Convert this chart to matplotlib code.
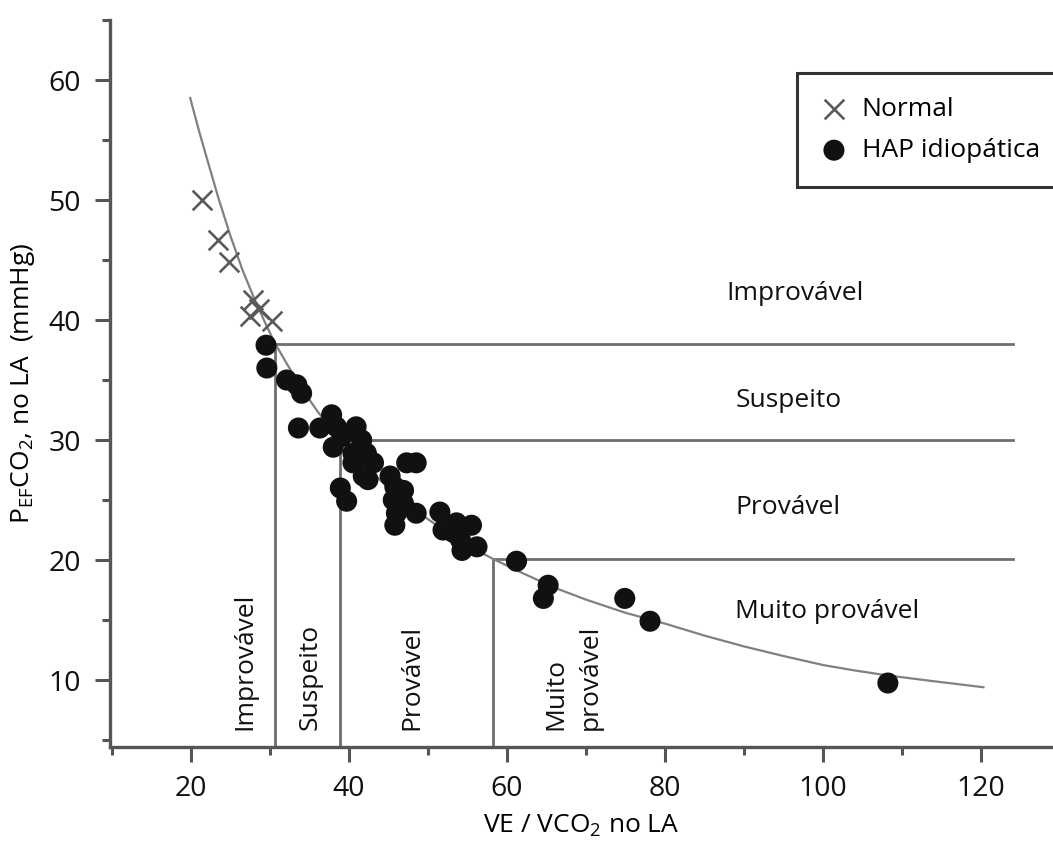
"""
PETCO2 vs VE/VCO2 at the anaerobic threshold, with probability zones for idiopathic PAH.
"""

import matplotlib

matplotlib.use("Agg")
import matplotlib.pyplot as plt
from matplotlib.ticker import MultipleLocator

plt.rcParams["font.family"] = ["Open Sans", "DejaVu Sans"]
plt.rcParams["mathtext.fontset"] = "custom"
plt.rcParams["mathtext.rm"] = "Open Sans"

# normal subjects (x markers)
normal_ve = [21.4, 23.4, 24.8, 27.8, 28.6, 27.5, 30.2]
normal_pet = [50.0, 46.7, 44.8, 41.7, 40.9, 40.3, 39.9]

# idiopathic PAH (filled circles)
hap_ve = [29.5, 29.6, 32.1, 33.4, 34.0, 33.6, 36.3, 37.8, 38.4, 39.1, 38.0,
          40.9, 41.6, 40.5, 42.2, 43.1, 40.5, 41.8, 42.4, 38.9, 39.7,
          47.3, 48.5, 45.2, 45.8, 46.9, 45.6, 46.9, 48.5, 46.0, 45.8,
          51.5, 51.9, 53.6, 55.5, 54.1, 54.3, 56.2, 53.2, 61.2,
          65.2, 64.6, 74.9, 78.1, 108.2]
hap_pet = [37.9, 36.0, 35.0, 34.6, 33.9, 31.0, 31.0, 32.1, 31.1, 30.3, 29.4,
           31.1, 30.0, 28.9, 28.9, 28.1, 28.1, 27.0, 26.7, 26.0, 24.9,
           28.1, 28.1, 27.0, 26.1, 25.8, 25.0, 24.7, 23.9, 23.9, 22.9,
           24.0, 22.5, 23.1, 22.9, 21.7, 20.8, 21.1, 22.3, 19.9,
           17.9, 16.8, 16.8, 14.9, 9.75]

# fitted curve
curve_ve = [19.9, 21.0, 22.0, 23.5, 25.0, 26.5, 28.0, 29.5, 30.6, 32.0, 34.0,
            36.0, 38.8, 42.0, 45.0, 50.0, 54.0, 58.2, 62.0, 66.0, 70.0, 75.0,
            80.0, 85.0, 90.0, 95.0, 100.0, 104.0, 108.0, 114.0, 120.3]
curve_pet = [58.5, 55.8, 53.5, 50.1, 47.0, 44.2, 41.8, 39.6, 38.1, 36.5, 34.3,
             32.4, 30.0, 27.9, 26.0, 23.4, 21.6, 20.1, 18.9, 17.7, 16.7, 15.6,
             14.7, 13.7, 12.8, 12.0, 11.25, 10.8, 10.4, 9.9, 9.4]

# zone cut-offs: corner points on the curve
cut_ve = [30.6, 38.8, 58.2]
cut_pet = [38.0, 30.0, 20.1]
line_end = 124.0

right_labels = ["Improvável", "Suspeito", "Provável", "Muito provável"]
right_x = [87.8, 88.9, 88.9, 88.9]
right_y = [42.25, 33.3, 24.4, 15.7]

bottom_labels = ["Improvável", "Suspeito", "Provável", "Muito\nprovável"]
bottom_x = [26.8, 35.1, 48.0, 68.4]
bottom_y = 5.85

fig = plt.figure(figsize=(10.53, 8.41), dpi=100)
ax = fig.add_axes([110 / 1053, 1 - 747 / 841, 1 - 110 / 1053, 727 / 841])
ax.set_xlim(9.75, 129.1)
ax.set_ylim(4.42, 65)

line_col = "#6e6e6e"
ax.plot(curve_ve, curve_pet, color="#808080", lw=1.6, zorder=2)
for cx, cy in zip(cut_ve, cut_pet):
    ax.plot([cx, line_end], [cy, cy], color=line_col, lw=2.0, zorder=1)
    ax.plot([cx, cx], [4.42, cy], color=line_col, lw=2.0, zorder=1)

ax.scatter(normal_ve, normal_pet, marker="x", s=200, color="#5a5a5a",
           linewidths=1.9, zorder=3, label="Normal")
ax.scatter(hap_ve, hap_pet, marker="o", s=230, color="#111111",
           edgecolors="none", zorder=4, label="HAP idiopática")

for txt, tx, ty in zip(right_labels, right_x, right_y):
    ax.text(tx, ty, txt, fontsize=19, ha="left", va="center", color="#111111")
for txt, tx in zip(bottom_labels, bottom_x):
    ax.text(tx, bottom_y, txt, fontsize=19, rotation=90, ha="center",
            va="bottom", multialignment="left", color="#111111",
            linespacing=1.5)

for side in ["top", "right"]:
    ax.spines[side].set_visible(False)
for side in ["left", "bottom"]:
    ax.spines[side].set_linewidth(2.4)
    ax.spines[side].set_color("#555555")

ax.xaxis.set_major_locator(MultipleLocator(20))
ax.xaxis.set_minor_locator(MultipleLocator(10))
ax.yaxis.set_major_locator(MultipleLocator(10))
ax.yaxis.set_minor_locator(MultipleLocator(5))
ax.set_xticks([20, 40, 60, 80, 100, 120])
ax.set_yticks([10, 20, 30, 40, 50, 60])
ax.tick_params(axis="both", which="major", length=11, width=2.2, color="#555555",
               labelsize=20.5, labelcolor="#111111")
ax.tick_params(axis="both", which="minor", length=5.5, width=2.2, color="#555555")
ax.tick_params(axis="x", which="major", pad=9)
ax.tick_params(axis="y", which="major", pad=10)

ax.set_xlabel("VE / VCO$_{\\mathregular{2}}$ no LA", fontsize=19, labelpad=7)
ax.set_ylabel("P$_{\\mathregular{EF}}$CO$_{\\mathregular{2}}$, no LA  (mmHg)",
              fontsize=19, labelpad=8)

leg = ax.legend(loc="upper left", bbox_to_anchor=(797 / 1053, 1 - 73 / 841),
                bbox_transform=fig.transFigure, fontsize=19, frameon=True,
                fancybox=False, borderpad=0.9, handletextpad=0.55,
                labelspacing=0.62, handlelength=1.0, scatterpoints=1,
                borderaxespad=0)
leg.get_frame().set_edgecolor("black")
leg.get_frame().set_linewidth(2.2)

fig.savefig("out.png", dpi=100)
